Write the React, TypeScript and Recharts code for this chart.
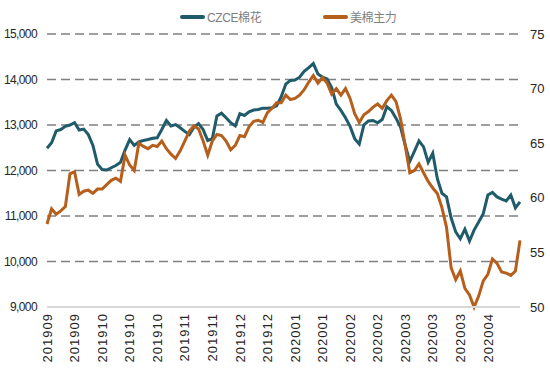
import { LineChart, Line, XAxis, YAxis, CartesianGrid, Legend } from 'recharts';

// 郑棉 CZCE cotton (left axis, yuan/ton)
const czce = [
  12490, 12610, 12870, 12900, 12970, 13000, 13050, 12890, 12910, 12790,
  12550, 12140, 12020, 12010, 12060, 12110, 12180, 12450, 12680, 12550,
  12630, 12660, 12680, 12710, 12720, 12900, 13100, 12980, 13010, 12940,
  12860, 12790, 12950, 13030, 12900, 12660, 12700, 13200, 13260, 13160,
  13050, 12980, 13250, 13210, 13290, 13330, 13340, 13370, 13370, 13380,
  13420, 13620, 13900, 13980, 13990, 14050, 14180, 14260, 14350, 14120,
  14050, 14010, 13820, 13460, 13320, 13160, 12970, 12700, 12580, 13000,
  13090, 13100, 13050, 13120, 13400, 13320, 13150, 12950, 12560, 12200,
  12420, 12650, 12520, 12180, 12380, 11820, 11500, 11420, 10960, 10650,
  10500, 10710, 10450, 10690, 10870, 11050, 11460, 11520, 11420, 11370,
  11330, 11460, 11180, 11310,
];

// ICE cotton front month (right axis, cents/lb)
const usCotton = [
  57.6, 59.0, 58.5, 58.8, 59.2, 62.2, 62.4, 60.3, 60.6, 60.7,
  60.4, 60.8, 60.8, 61.2, 61.6, 61.8, 61.5, 63.9, 63.0, 62.5,
  65.0, 64.7, 64.5, 64.8, 64.7, 65.2, 64.5, 64.0, 63.6, 64.3,
  65.2, 66.1, 66.6, 66.3, 65.2, 63.9, 65.2, 65.8, 65.7, 65.2,
  64.4, 64.8, 65.7, 65.6, 66.5, 67.0, 67.1, 66.9, 67.8, 68.2,
  68.7, 68.7, 69.4, 69.0, 69.1, 69.4, 69.9, 70.6, 71.2, 70.5,
  71.0, 70.5, 69.5, 70.0, 69.4, 70.0, 69.1, 67.7, 66.9, 67.6,
  67.9, 68.3, 68.6, 68.2, 68.9, 69.4, 68.8, 67.2, 64.8, 62.3,
  62.5, 63.1, 62.3, 61.5, 60.9, 60.4, 59.1, 57.3, 53.6, 52.5,
  53.3, 51.7, 51.1, 50.0, 51.0, 52.4, 53.0, 54.4, 54.0, 53.2,
  53.1, 52.9, 53.3, 56.1,
];

const xLabels = [
  '201909', '201909', '201910', '201910', '201910', '201911', '201911', '201912', '201912',
  '202001', '202001', '202002', '202002', '202003', '202003', '202003', '202004',
];
const labelStep = 6;

const leftTicks = [9000, 10000, 11000, 12000, 13000, 14000, 15000];
const rightTicks = [50, 55, 60, 65, 70, 75];

const TEAL = '#1f5b6a';
const BROWN = '#b65e1c';
const NUM_FONT = '"Liberation Sans", Arial, sans-serif';

const data = czce.map((v, i) => ({ idx: i, czce: v, us: usCotton[i] }));
const xTicks = xLabels.map((_, i) => i * labelStep);

function DateTick(props: any) {
  const { x, y, payload } = props;
  const label = xLabels[Math.round(payload.value / labelStep)] ?? '';
  return (
    <text
      transform={`translate(${x},${y}) rotate(-90)`}
      textAnchor="end"
      dy="0.36em"
      fill="#262626"
      fontSize={13}
      letterSpacing={1}
      fontFamily='"Liberation Sans", Arial, sans-serif'
    >
      {label}
    </text>
  );
}

function LegendBox() {
  const items = [
    { name: 'CZCE棉花', color: TEAL, left: 180 },
    { name: '美棉主力', color: BROWN, left: 323 },
  ];
  return (
    <div style={{ position: 'relative', height: 20, width: 550 }}>
      {items.map((it) => (
        <div
          key={it.name}
          style={{
            position: 'absolute',
            left: it.left,
            top: 0,
            display: 'flex',
            alignItems: 'center',
            fontFamily: '"Liberation Sans", "Noto Sans CJK SC", sans-serif',
            fontSize: 12,
            letterSpacing: -0.4,
            color: '#7f7f7f',
          }}
        >
          <span
            style={{
              display: 'inline-block',
              width: 25,
              height: 4,
              borderRadius: 2,
              background: it.color,
              marginRight: 2,
            }}
          />
          <span>{it.name}</span>
        </div>
      ))}
    </div>
  );
}

export default function App() {
  return (
    <div style={{ position: 'absolute', left: 0, top: 0, width: 550, height: 377, background: '#fff' }}>
      <LineChart width={550} height={377} data={data} margin={{ top: 34, right: 0, bottom: 0, left: 0 }}>
        <CartesianGrid
          vertical={false}
          horizontalValues={leftTicks.slice(1)}
          stroke="#808080"
          strokeWidth={1.5}
          strokeDasharray="9 5"
        />
        <XAxis
          dataKey="idx"
          type="number"
          domain={[0, czce.length - 1]}
          ticks={xTicks}
          interval={0}
          tick={<DateTick />}
          tickLine={false}
          tickMargin={0}
          height={70}
          axisLine={{ stroke: '#d9d9d9', strokeWidth: 2 }}
        />
        <YAxis
          domain={[9000, 15000]}
          ticks={leftTicks}
          width={47}
          axisLine={false}
          tickLine={false}
          tickMargin={4}
          tick={{ fill: '#262626', fontSize: 12, letterSpacing: -0.6, fontFamily: NUM_FONT }}
          tickFormatter={(v: number) => v.toLocaleString('en-US')}
        />
        <YAxis
          yAxisId="right"
          orientation="right"
          domain={[50, 75]}
          ticks={rightTicks}
          width={30}
          axisLine={false}
          tickLine={false}
          tickMargin={4}
          tick={{ fill: '#262626', fontSize: 13, fontFamily: NUM_FONT }}
        />
        <Legend verticalAlign="middle" layout="horizontal" wrapperStyle={{ top: 8, left: 0 }} content={<LegendBox />} />
        <Line
          dataKey="czce"
          name="CZCE棉花"
          stroke={TEAL}
          strokeWidth={3}
          dot={false}
          isAnimationActive={false}
        />
        <Line
          yAxisId="right"
          dataKey="us"
          name="美棉主力"
          stroke={BROWN}
          strokeWidth={3}
          dot={false}
          isAnimationActive={false}
        />
      </LineChart>
    </div>
  );
}
